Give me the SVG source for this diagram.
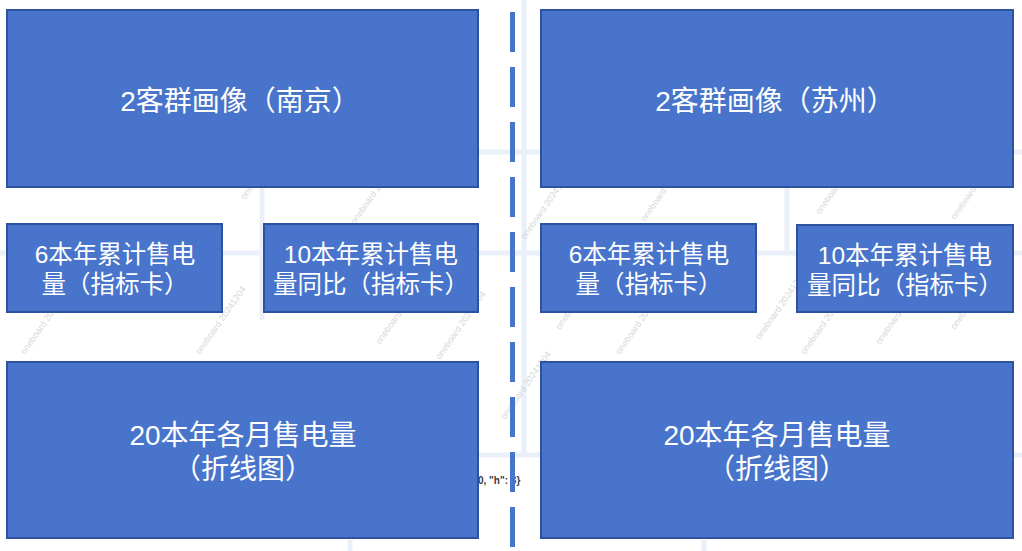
<svg xmlns="http://www.w3.org/2000/svg" width="1022" height="551" viewBox="0 0 1022 551">
<style>
.bg{stroke:#EAF0F9;stroke-width:5;fill:none}
.wm{font-family:"Liberation Sans",Arial,sans-serif;font-size:9px;fill:#C8C8C8;opacity:0.7}
.box{fill:#4874CB;stroke:#2F52A0;stroke-width:2}
.t{font-family:"Liberation Sans","Noto Sans CJK SC","Microsoft YaHei",sans-serif;fill:#FFFFFF;text-anchor:middle}
.t28{font-size:28px}
.t25{font-size:24.5px}
.sep{stroke:#4874CB;stroke-width:5;stroke-dasharray:40 15;fill:none}
</style>
<rect width="1022" height="551" fill="#FFFFFF"/>
<g id="background">
<path class="bg" d="M0 253H1022M478 152H1022M470 455H1022M262 187V320M524 0V455M787 187V253M350 540V551M704 540V551"/>
<text class="wm" transform="translate(245,200) rotate(-55)">oneboard 20241204</text>
<text class="wm" transform="translate(355,225) rotate(-55)">oneboard 20241204</text>
<text class="wm" transform="translate(380,345) rotate(-55)">oneboard 20241204</text>
<text class="wm" transform="translate(440,360) rotate(-55)">oneboard 20241204</text>
<text class="wm" transform="translate(25,355) rotate(-55)">oneboard 20241204</text>
<text class="wm" transform="translate(200,355) rotate(-55)">oneboard 20241204</text>
<text class="wm" transform="translate(525,240) rotate(-55)">oneboard 20241204</text>
<text class="wm" transform="translate(645,222) rotate(-55)">oneboard 20241204</text>
<text class="wm" transform="translate(820,215) rotate(-55)">oneboard 20241204</text>
<text class="wm" transform="translate(560,330) rotate(-55)">oneboard 20241204</text>
<text class="wm" transform="translate(760,340) rotate(-55)">oneboard 20241204</text>
<text class="wm" transform="translate(880,345) rotate(-55)">oneboard 20241204</text>
<text class="wm" transform="translate(620,355) rotate(-55)">oneboard 20241204</text>
<text class="wm" transform="translate(805,355) rotate(-55)">oneboard 20241204</text>
<text class="wm" transform="translate(955,330) rotate(-55)">oneboard 20241204</text>
<text class="wm" transform="translate(505,420) rotate(-55)">oneboard 20241204</text>
<text class="wm" transform="translate(955,220) rotate(-55)">oneboard 20241204</text>
<text x="478" y="484" font-family="Liberation Sans,Arial,sans-serif" font-size="10" font-weight="bold" fill="#3A3A3A">0, "h": 3}</text>
</g>
<g id="connectors">
<line class="sep" x1="512.5" y1="12" x2="512.5" y2="551"/>
</g>
<g id="node-nj-portrait">
<rect class="box" x="7" y="10" width="471" height="177"/>
<text class="t t28" x="240" y="111">2客群画像（南京）</text>
</g>
<g id="node-sz-portrait">
<rect class="box" x="541" y="10" width="472" height="177"/>
<text class="t t28" x="775" y="111">2客群画像（苏州）</text>
</g>
<g id="node-nj-ytd">
<rect class="box" x="7" y="224" width="215" height="88"/>
<text class="t t25"><tspan x="115" y="262.7">6本年累计售电</tspan><tspan x="115" y="292.7">量（指标卡）</tspan></text>
</g>
<g id="node-nj-yoy">
<rect class="box" x="264" y="224" width="214" height="88"/>
<text class="t t25"><tspan x="371" y="262.7">10本年累计售电</tspan><tspan x="371" y="292.7">量同比（指标卡）</tspan></text>
</g>
<g id="node-sz-ytd">
<rect class="box" x="541" y="224" width="215" height="88"/>
<text class="t t25"><tspan x="649" y="262.7">6本年累计售电</tspan><tspan x="649" y="292.7">量（指标卡）</tspan></text>
</g>
<g id="node-sz-yoy">
<rect class="box" x="797" y="225" width="216" height="87"/>
<text class="t t25"><tspan x="905" y="263.7">10本年累计售电</tspan><tspan x="905" y="293.7">量同比（指标卡）</tspan></text>
</g>
<g id="node-nj-monthly">
<rect class="box" x="7" y="362" width="471" height="176"/>
<text class="t t28"><tspan x="243" y="445">20本年各月售电量</tspan><tspan x="243" y="479">（折线图）</tspan></text>
</g>
<g id="node-sz-monthly">
<rect class="box" x="541" y="362" width="472" height="176"/>
<text class="t t28"><tspan x="777" y="445">20本年各月售电量</tspan><tspan x="777" y="479">（折线图）</tspan></text>
</g>
</svg>
